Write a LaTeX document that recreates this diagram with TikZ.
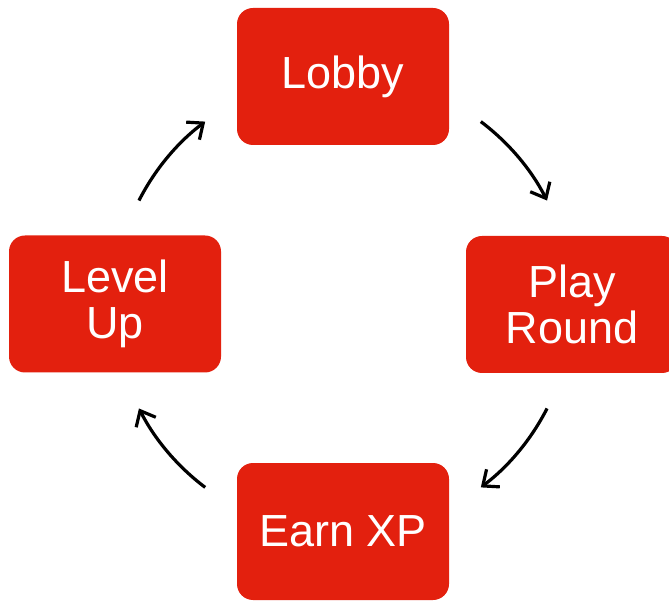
\documentclass[tikz,border=0pt]{standalone}
\usepackage{fontspec}
\setmainfont{Liberation Sans}
\usetikzlibrary{arrows.meta}
\definecolor{boxred}{RGB}{227,32,14}
\begin{document}
\begin{tikzpicture}[x=1pt,y=1pt,
  stage/.style={fill=boxred, rounded corners=16pt, minimum width=212pt, minimum height=137pt,
    inner sep=0pt, text=white, align=center, font=\fontsize{45}{46}\selectfont},
  cyc/.style={line width=3.2pt, -{Straight Barb[length=13pt,width=22pt,line width=3.2pt]}}]
\clip (0,0) rectangle (669,600);
\useasboundingbox (0,0) rectangle (669,600);
\node[stage] (lobby) at (343,523.5) {Lobby};
\node[stage] (play) at (572,295.5) {Play\\Round};
\node[stage] (earn) at (343,68.5) {Earn XP};
\node[stage] (level) at (115,296) {Level\\Up};
\coordinate (ctr) at (343,295.5);
\path (ctr) ++(53:229pt) coordinate (s1);
\path (ctr) ++(-27:229pt) coordinate (s2);
\path (ctr) ++(233:229pt) coordinate (s3);
\path (ctr) ++(153:229pt) coordinate (s4);
\draw[cyc] (s1) arc[start angle=53, end angle=27, radius=229pt];
\draw[cyc] (s2) arc[start angle=-27, end angle=-53, radius=229pt];
\draw[cyc] (s3) arc[start angle=233, end angle=207, radius=229pt];
\draw[cyc] (s4) arc[start angle=153, end angle=127, radius=229pt];
\end{tikzpicture}
\end{document}
